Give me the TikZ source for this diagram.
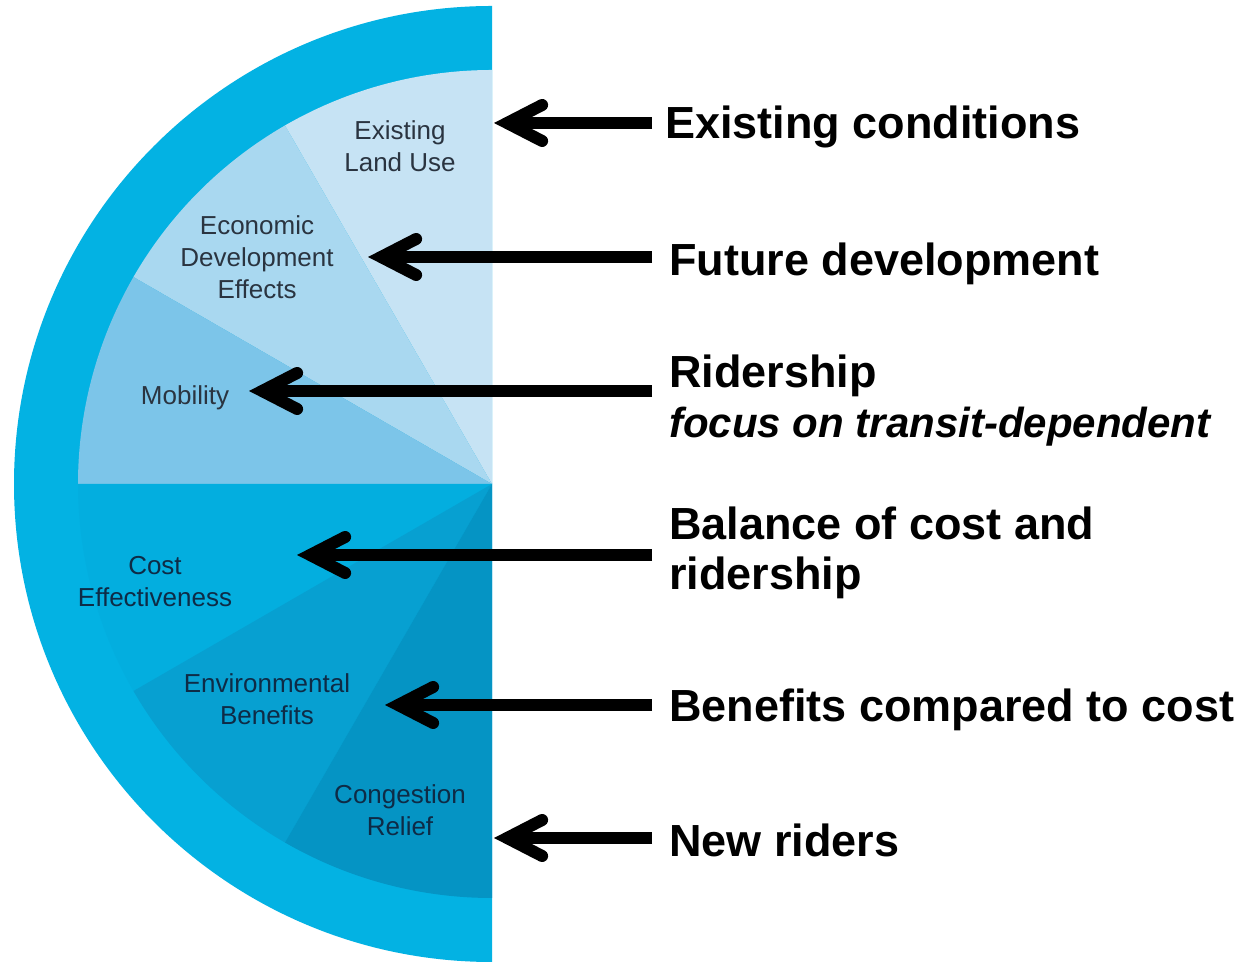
\documentclass[tikz,border=0pt]{standalone}
\usepackage{fontspec}
\setmainfont{Liberation Sans}
\usetikzlibrary{arrows.meta}

% palette of the half disc
\definecolor{ringcyan}{HTML}{03B2E3}
\definecolor{landuse}{HTML}{C6E3F4}
\definecolor{econdev}{HTML}{A9D8F0}
\definecolor{mobility}{HTML}{7CC5E9}
\definecolor{costeff}{HTML}{03AEDF}
\definecolor{envben}{HTML}{07A0D1}
\definecolor{congest}{HTML}{0594C4}
\definecolor{labelgrey}{HTML}{2A3440}
\definecolor{labelnavy}{HTML}{0E2B46}

\begin{document}
\begin{tikzpicture}[x=1pt,y=1pt,
  wedgelabel/.style={align=center, inner sep=0pt,
    font=\fontsize{26}{32}\selectfont},
  toplabel/.style={wedgelabel, text=labelgrey},
  lowlabel/.style={wedgelabel, text=labelnavy},
  note/.style={anchor=base west, inner xsep=17pt, inner ysep=0pt,
    font=\fontsize{45}{50}\selectfont\bfseries},
  subnote/.style={anchor=base west, inner xsep=17pt, inner ysep=0pt,
    font=\fontsize{42}{48}\selectfont\bfseries\itshape},
  pointer/.style={line width=12pt,
    -{Straight Barb[length=35pt,width=36pt,line cap=round,line join=miter]}}
]
\fill[white] (0,0) rectangle (1242,963);
\useasboundingbox (0,0) rectangle (1242,963);

% centre of the half disc
\coordinate (c) at (492,479);

% outer ring
\fill[ringcyan] (c) -- ++(90:478pt) arc[start angle=90,end angle=270,radius=478pt] -- cycle;

% upper wedges
\fill[landuse]  (c) -- ++(90:414pt)  arc[start angle=90, end angle=120,radius=414pt] -- cycle;
\fill[econdev]  (c) -- ++(120:414pt) arc[start angle=120,end angle=150,radius=414pt] -- cycle;
\fill[mobility] (c) -- ++(150:414pt) arc[start angle=150,end angle=180,radius=414pt] -- cycle;

% lower wedges
\fill[costeff]  (c) -- ++(180:414pt) arc[start angle=180,end angle=210,radius=414pt] -- cycle;
\fill[envben]   (c) -- ++(210:414pt) arc[start angle=210,end angle=240,radius=414pt] -- cycle;
\fill[congest]  (c) -- ++(240:414pt) arc[start angle=240,end angle=270,radius=414pt] -- cycle;

% wedge labels
\node[toplabel] (l1) at (400,817) {Existing\\Land Use};
\node[toplabel] (l2) at (257,706) {Economic\\Development\\Effects};
\node[toplabel] (l3) at (185,565) {Mobility};
\node[lowlabel] (l4) at (155,381) {Cost\\Effectiveness};
\node[lowlabel] (l5) at (267,264) {Environmental\\Benefits};
\node[lowlabel] (l6) at (400,153) {Congestion\\Relief};

% arrow tips
\coordinate (m1) at (494,840);
\coordinate (m2) at (368,706);
\coordinate (m3) at (249,572);
\coordinate (m4) at (297,408);
\coordinate (m5) at (385,258);
\coordinate (m6) at (494,125);

% criteria notes
\node[note, inner xsep=13pt] (t1) at (652,824) {Existing conditions};
\node[note] (t2) at (652,687) {Future development};
\node[note] (t3) at (652,575) {Ridership};
\node[subnote] (t3b) at (652,525) {focus on transit-dependent};
\node[note] (t4) at (652,423) {Balance of cost and};
\node[note] (t4b) at (652,373) {ridership};
\node[note] (t5) at (652,241) {Benefits compared to cost};
\node[note] (t6) at (652,106) {New riders};

% pointers
\draw[pointer] (t1.west |- m1) -- (m1);
\draw[pointer] (t2.west |- m2) -- (m2);
\draw[pointer] (t3.west |- m3) -- (m3);
\draw[pointer] (t4.west |- m4) -- (m4);
\draw[pointer] (t5.west |- m5) -- (m5);
\draw[pointer] (t6.west |- m6) -- (m6);
\end{tikzpicture}
\end{document}
